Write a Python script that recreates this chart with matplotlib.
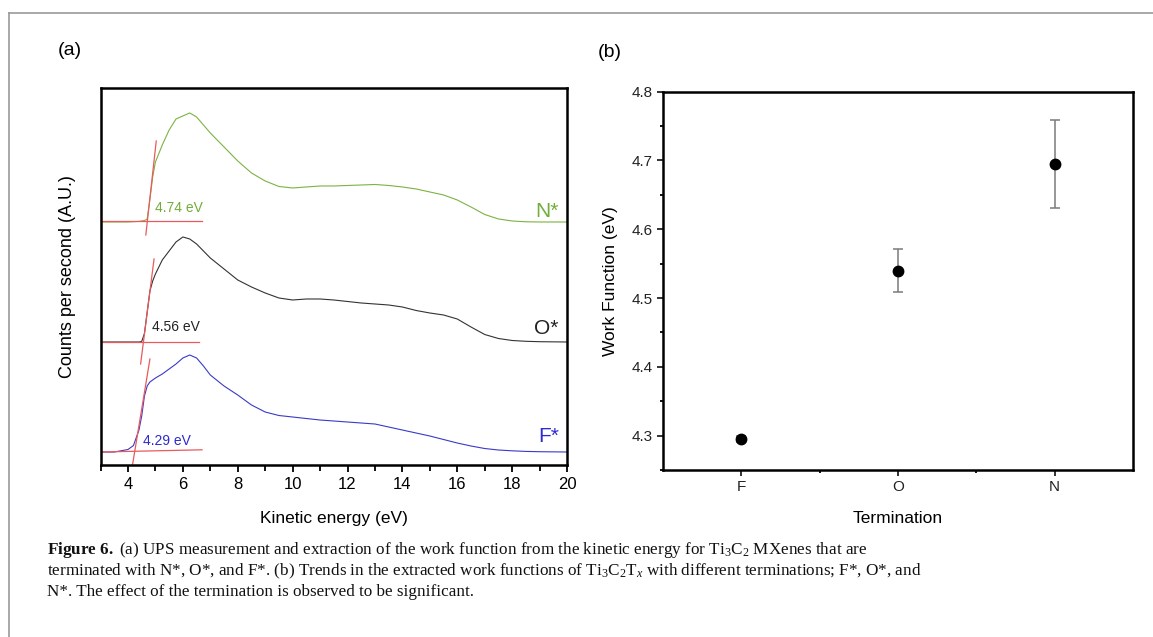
import matplotlib
matplotlib.use('Agg')
import matplotlib.pyplot as plt
from matplotlib.lines import Line2D
import numpy as np

plt.rcParams['font.family'] = ['Liberation Sans', 'DejaVu Sans']
plt.rcParams['mathtext.fontset'] = 'custom'
plt.rcParams['mathtext.rm'] = 'Liberation Serif'
plt.rcParams['mathtext.it'] = 'Liberation Serif:italic'
plt.rcParams['mathtext.bf'] = 'Liberation Serif:bold'

# ---- panel (a): UPS spectra, intensity above each baseline (arb. units)
energy = [3.0, 3.5, 4.0, 4.2, 4.4, 4.5, 4.6, 4.7, 4.8, 4.9, 5.0, 5.25, 5.5, 5.75,
          6.0, 6.25, 6.5, 6.75, 7.0, 7.5, 8.0, 8.5, 9.0, 9.5, 10.0, 10.5, 11.0,
          11.5, 12.0, 12.5, 13.0, 13.5, 14.0, 14.5, 15.0, 15.5, 16.0, 16.5, 17.0,
          17.5, 18.0, 18.5, 19.0, 20.0]
counts_N = [0, 0, 0, 0.3, 0.6, 1, 1.5, 3, 23, 45, 60, 77, 92, 103,
            106, 109, 105, 97, 89, 75, 61, 49, 41, 35.5, 34, 35, 36,
            36, 36.5, 37, 37.5, 36.5, 35, 33, 30, 27, 22, 15, 7.5,
            3, 1, 0.2, 0, 0]
counts_O = [0, 0, 0, 0, 0, 0.5, 8.5, 30, 51, 61, 68, 82, 91, 100,
            105, 103, 98, 91, 84, 73, 62, 55, 49, 44, 42, 43, 43,
            42, 40.5, 39, 38, 37, 35, 31.5, 29, 27, 23, 15, 7.5,
            3.5, 1.5, 0.7, 0.3, 0]
counts_F = [0, 0, 2.5, 6.5, 22, 36, 56, 66, 70, 72, 74, 78, 83, 88,
            94, 97, 94, 86, 77, 66, 57, 47, 40, 36.5, 35, 33.5, 32,
            31, 30, 29, 28, 25, 22, 19, 16, 12.5, 9, 6, 3.5,
            2, 1.2, 0.6, 0.3, 0]

labels_a = ['N*', 'O*', 'F*']
offsets = [243, 123, 13]
work_fn_text = ['4.74 eV', '4.56 eV', '4.29 eV']
# linear fit of the secondary electron cut-off: (E, h) start and end points
edge_fit = [((4.65, -13), (5.03, 81)),
            ((4.46, -22), (4.95, 83)),
            ((4.17, -12), (4.80, 93))]
base_fit = [((3.0, 0.5), (6.7, 0.5)),
            ((3.0, 0.0), (6.6, 0.0)),
            ((3.0, 0.0), (6.7, 2.2))]
colors = ['#7cb342', '#333333', '#3a3ac8']
label_colors = ['#72ad3a', '#222222', '#2b2bd0']
fit_color = '#e85a5e'

# ---- panel (b): extracted work functions
terminations = ['F', 'O', 'N']
work_fn = [4.295, 4.54, 4.695]
work_err = [0.005, 0.031, 0.064]

fig = plt.figure(figsize=(11.53, 6.37), dpi=100)

ax1 = fig.add_axes([0.0872, 0.270, 0.4046, 0.5919])
series = [counts_N, counts_O, counts_F]
for i in range(3):
    y = np.array(series[i]) + offsets[i]
    ax1.plot(energy, y, color=colors[i], lw=0.8)
    (x0, h0), (x1, h1) = edge_fit[i]
    ax1.plot([x0, x1], [h0 + offsets[i], h1 + offsets[i]], color=fit_color, lw=0.9)
    (x0, h0), (x1, h1) = base_fit[i]
    ax1.plot([x0, x1], [h0 + offsets[i], h1 + offsets[i]], color=fit_color, lw=0.9)
    ax1.text(19.7, offsets[i] + [10, 13, 16][i], labels_a[i], color=label_colors[i],
             fontsize=15, ha='right', va='center')
ax1.text(5.0, offsets[0] + 14, work_fn_text[0], color=label_colors[0], fontsize=10, va='center')
ax1.text(4.89, offsets[1] + 15, work_fn_text[1], color=label_colors[1], fontsize=10, va='center')
ax1.text(4.56, offsets[2] + 11, work_fn_text[2], color=label_colors[2], fontsize=10, va='center')

ax1.set_xlim(3, 20)
ax1.set_ylim(0, 377)
ax1.set_xticks(np.arange(4, 21, 2))
ax1.set_xticks(np.arange(3, 21, 1), minor=True)
ax1.set_yticks([])
ax1.tick_params(axis='x', which='major', direction='out', length=5, width=1.3, labelsize=12)
ax1.tick_params(axis='x', which='minor', direction='out', length=4, width=1.3)
for s in ax1.spines.values():
    s.set_linewidth(1.8)
ax1.set_xlabel('Kinetic energy (eV)', fontsize=12.5, labelpad=14)
ax1.set_ylabel('Counts per second (A.U.)', fontsize=13, labelpad=18)

ax2 = fig.add_axes([0.575, 0.2622, 0.4077, 0.5939])
xpos = np.arange(1, len(terminations) + 1)
ax2.errorbar(xpos, work_fn, yerr=work_err, fmt='o', color='black', ms=7.5,
             ecolor='#7a7a7a', elinewidth=1.1, capsize=3.5, capthick=1.1)
ax2.set_xlim(0.5, 3.5)
ax2.set_ylim(4.25, 4.8)
ax2.set_xticks(xpos)
ax2.set_xticklabels(terminations)
ax2.set_xticks([1.5, 2.5], minor=True)
ax2.set_yticks([4.3, 4.4, 4.5, 4.6, 4.7, 4.8])
ax2.set_yticks(np.arange(4.25, 4.80, 0.1), minor=True)
ax2.tick_params(which='major', direction='out', length=4, width=1.3, labelsize=11, colors='#222222')
ax2.tick_params(which='minor', direction='out', length=2.5, width=1.3)
for s in ax2.spines.values():
    s.set_linewidth(1.8)
ax2.set_xlabel('Termination', fontsize=12.5, labelpad=12)
ax2.set_ylabel('Work Function (eV)', fontsize=12.5, labelpad=10)

fig.text(0.050, 0.921, '(a)', fontsize=14, va='center')
fig.text(0.518, 0.918, '(b)', fontsize=14, va='center')

caption = [
    r'$\mathbf{Figure\ 6.}$ (a) UPS measurement and extraction of the work function from the kinetic energy for Ti$_3$C$_2$ MXenes that are',
    r'terminated with N*, O*, and F*. (b) Trends in the extracted work functions of Ti$_3$C$_2$T$_x$ with different terminations; F*, O*, and',
    r'N*. The effect of the termination is observed to be significant.',
]
for k, line in enumerate(caption):
    fig.text(0.041, 0.137 - k * 0.0335, line, fontsize=12.3, family='Liberation Serif',
             va='center', color='#111111')

# thin grey frame around the figure panel
fig.add_artist(Line2D([0.008, 1.0], [0.979, 0.979], color='#9a9a9a', lw=1.2, transform=fig.transFigure))
fig.add_artist(Line2D([0.008, 0.008], [0.0, 0.979], color='#9a9a9a', lw=1.2, transform=fig.transFigure))

fig.savefig('out.png', dpi=100)
